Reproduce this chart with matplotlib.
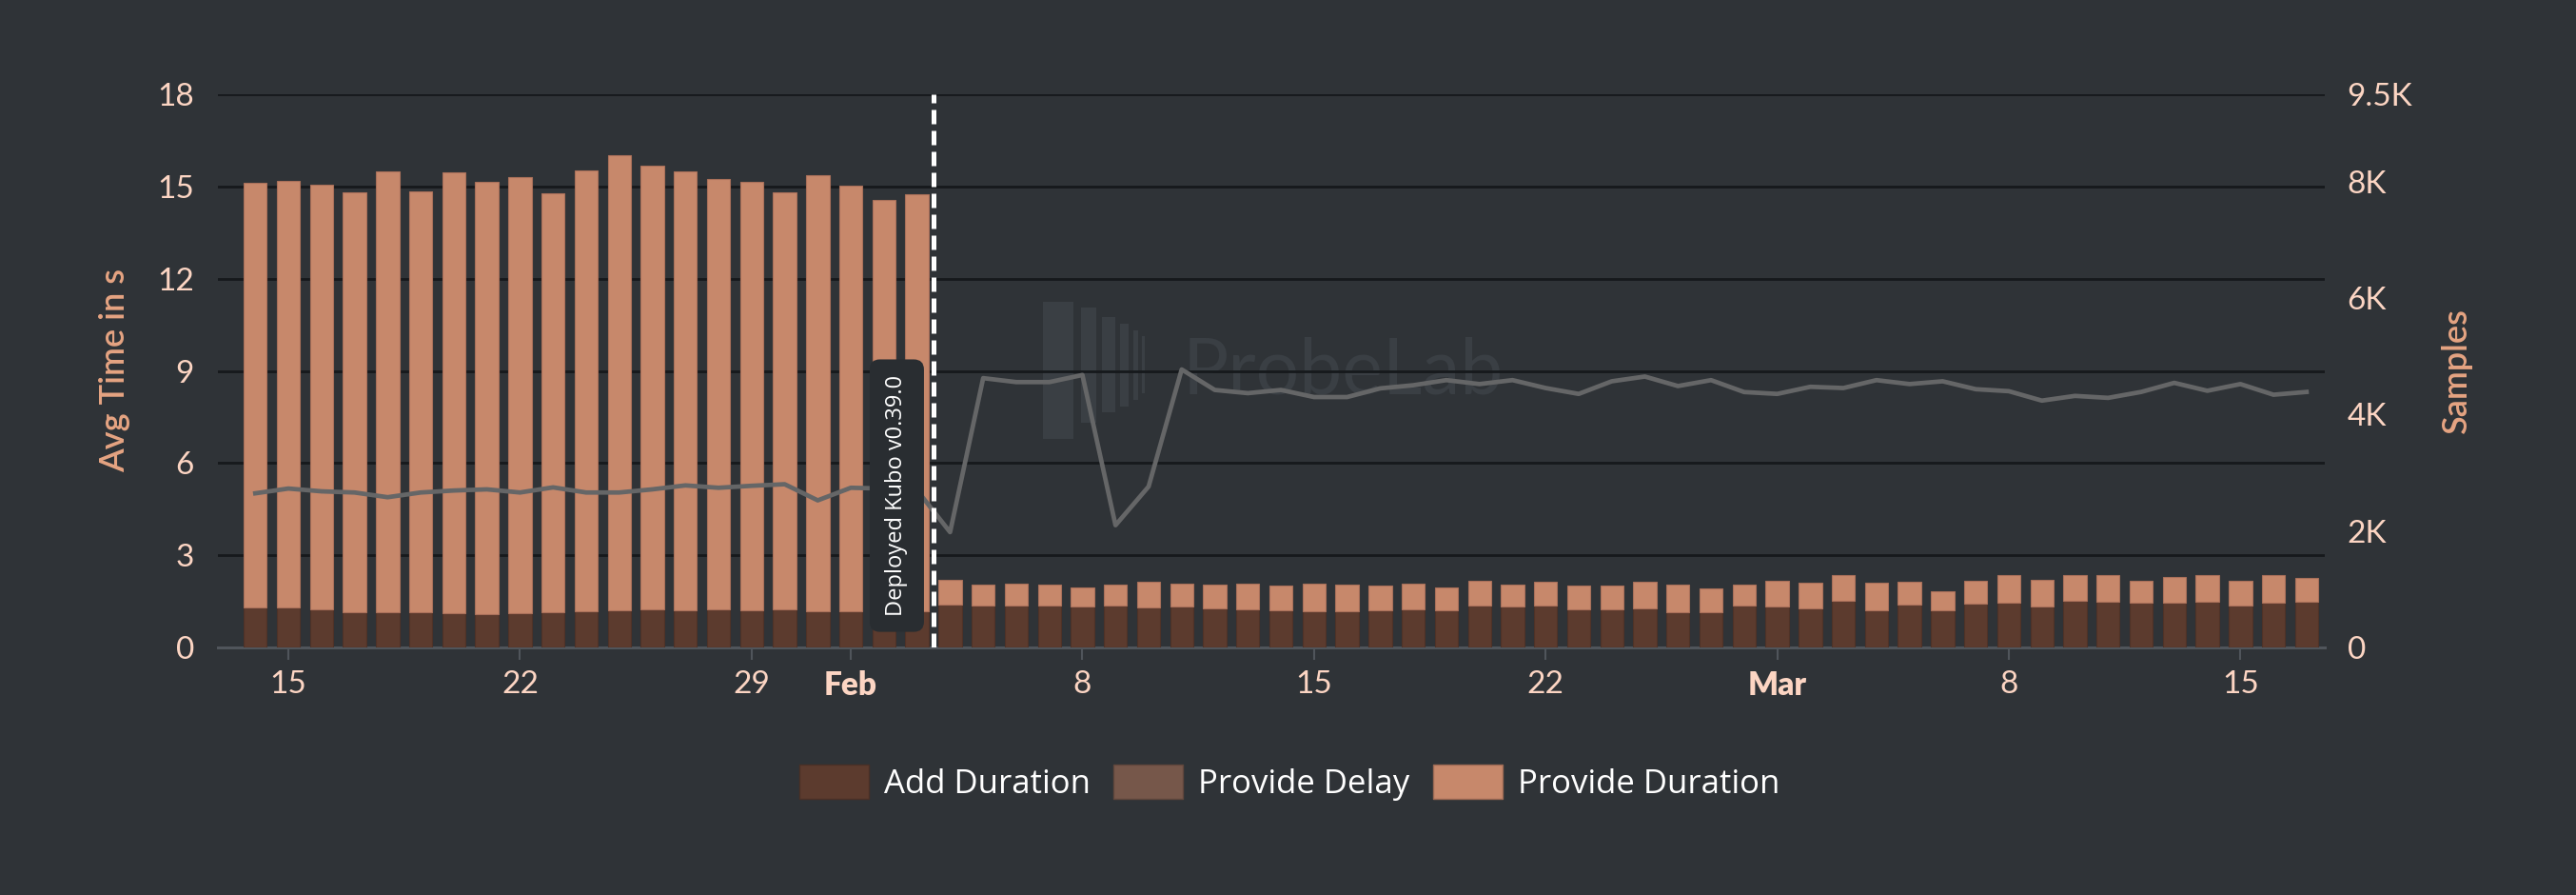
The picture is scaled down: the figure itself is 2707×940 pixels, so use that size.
import numpy as np
import pandas as pd
import matplotlib as mpl
mpl.use("Agg")
import matplotlib.pyplot as plt
import matplotlib.dates as mdates
from matplotlib import patches

plt.rcParams['font.family'] = ['Lato', 'DejaVu Sans']

# ---- data ----
days = pd.date_range('2025-01-14', '2025-03-17', freq='D')

add_duration = [
    1.31, 1.30, 1.24, 1.15, 1.14, 1.15, 1.12, 1.08, 1.12, 1.15, 1.19,
    1.22, 1.23, 1.22, 1.23, 1.22, 1.24, 1.18, 1.18, 1.17, 1.18,
    1.39, 1.35, 1.35, 1.36, 1.33, 1.36, 1.31, 1.33, 1.28, 1.23, 1.21,
    1.18, 1.18, 1.21, 1.24, 1.21, 1.36, 1.32, 1.35, 1.24, 1.24, 1.28,
    1.14, 1.15, 1.35,
    1.32, 1.28, 1.51, 1.22, 1.39, 1.22, 1.44, 1.46, 1.32, 1.51, 1.50,
    1.45, 1.46, 1.48, 1.35, 1.46, 1.48,
]
provide_delay = [
    0.0, 0.0, 0.0, 0.0, 0.0, 0.0, 0.0, 0.0, 0.0, 0.0, 0.0,
    0.0, 0.0, 0.0, 0.0, 0.0, 0.0, 0.0, 0.0, 0.0, 0.0,
    0.0, 0.0, 0.0, 0.0, 0.0, 0.0, 0.0, 0.0, 0.0, 0.0, 0.0,
    0.0, 0.0, 0.0, 0.0, 0.0, 0.0, 0.0, 0.0, 0.0, 0.0, 0.0,
    0.0, 0.0, 0.0,
    0.0, 0.0, 0.0, 0.0, 0.0, 0.0, 0.0, 0.0, 0.0, 0.0, 0.0,
    0.0, 0.0, 0.0, 0.0, 0.0, 0.0,
]
provide_duration = [
    13.80, 13.89, 13.81, 13.66, 14.35, 13.69, 14.33, 14.06, 14.19, 13.64, 14.32,
    14.79, 14.45, 14.27, 14.00, 13.92, 13.57, 14.20, 13.86, 13.39, 13.56,
    0.80, 0.68, 0.73, 0.68, 0.62, 0.68, 0.82, 0.75, 0.76, 0.84, 0.80,
    0.89, 0.85, 0.79, 0.85, 0.73, 0.81, 0.72, 0.78, 0.77, 0.77, 0.85,
    0.90, 0.77, 0.70,
    0.84, 0.84, 0.86, 0.90, 0.74, 0.61, 0.72, 0.88, 0.87, 0.85, 0.85,
    0.73, 0.82, 0.86, 0.82, 0.89, 0.78,
]
samples = [
    2647, 2729, 2681, 2661, 2580, 2661, 2695, 2715, 2661, 2749, 2661,
    2661, 2715, 2783, 2742, 2776, 2803, 2526, 2742, 2729, 2700,
    1980, 4625, 4557, 4557, 4679, 2099, 2763, 4774, 4422, 4367, 4422,
    4300, 4300, 4449, 4503, 4591, 4523, 4591, 4455, 4354, 4571, 4652,
    4489, 4591, 4386,
    4354, 4476, 4455, 4591, 4523, 4571, 4435, 4401, 4239, 4320, 4286,
    4388, 4544, 4408, 4523, 4340, 4388,
]

tick_days = ['2025-01-15', '2025-01-22', '2025-01-29', '2025-02-01', '2025-02-08',
             '2025-02-15', '2025-02-22', '2025-03-01', '2025-03-08', '2025-03-15']
tick_labels = ['15', '22', '29', 'Feb', '8', '15', '22', 'Mar', '8', '15']
left_ticks = [0, 3, 6, 9, 12, 15, 18]
right_ticks = [0, 2000, 4000, 6000, 8000, 9500]
right_labels = ['0', '2K', '4K', '6K', '8K', '9.5K']
deploy_day = '2025-02-03 12:00'
deploy_label = 'Deployed Kubo v0.39.0'

# ---- colours ----
bg = '#2f3337'
c_add = '#5c3b2e'
c_delay = '#76574a'
c_prov = '#c7886b'
c_line = '#656667'
c_tick = '#fcd5c3'
c_label = '#e6a482'
c_grid = '#16191c'
c_base = '#50555b'

W, H = 2707, 940
fig = plt.figure(figsize=(W / 100, H / 100), dpi=100, facecolor=bg)
ax = fig.add_axes([229 / W, 1 - 680 / H, 2214 / W, 581 / H])
ax.set_facecolor('none')
ax2 = ax.twinx()
ax2.set_facecolor('none')

x = mdates.date2num(days)
add = np.array(add_duration)
dly = np.array(provide_delay)
prov = np.array(provide_duration)

ax.bar(x, add, width=0.7, color=c_add, edgecolor='#4e3227', linewidth=0.8, zorder=3)
ax.bar(x, dly, width=0.7, bottom=add, color=c_delay, linewidth=0, zorder=3)
ax.bar(x, prov, width=0.7, bottom=add + dly, color=c_prov, edgecolor='#a9705a',
       linewidth=0.8, zorder=3)

ax.set_xlim(x[0] - 1.13, x[-1] + 0.55)
ax.set_ylim(0, 18)
ax.set_yticks(left_ticks)
ax.yaxis.grid(True, color=c_grid, linewidth=2.0, zorder=0)
ax.set_axisbelow(True)
for s in ax.spines.values():
    s.set_visible(False)
for s in ax2.spines.values():
    s.set_visible(False)
ax.spines['bottom'].set_visible(True)
ax.spines['bottom'].set_color(c_base)
ax.spines['bottom'].set_linewidth(2.2)

ax.tick_params(axis='y', length=0, pad=18, labelsize=24, labelcolor=c_tick)

ax.set_xticks(mdates.date2num(pd.to_datetime(tick_days)))
ax.set_xticklabels(tick_labels)
ax.tick_params(axis='x', length=9.5, width=1.5, color=c_base, pad=8,
               labelsize=24, labelcolor=c_tick)
for lab in ax.get_xticklabels():
    if lab.get_text() in ('Feb', 'Mar'):
        lab.set_fontweight('heavy')

# samples line on right axis
ax2.plot(x, samples, color=c_line, linewidth=3.4, zorder=4)
ax2.set_ylim(0, 9500)
ax2.set_yticks(right_ticks)
ax2.set_yticklabels(right_labels)
ax2.tick_params(axis='y', length=0, pad=17, labelsize=24, labelcolor=c_tick)

# deploy marker
dx = mdates.date2num(pd.Timestamp(deploy_day))
ax2.axvline(dx, color='white', linewidth=3.6, linestyle=(0, (3.0, 1.4)), zorder=6)
ax2.text(dx - 1.11, 4.94, deploy_label, transform=ax.transData, rotation=90,
         ha='center', va='center', fontsize=17, color='white', family='Open Sans',
         zorder=7,
         bbox=dict(boxstyle='round,pad=0.7,rounding_size=0.45', fc='#292d31',
                   ec='none'))

# axis titles
fig.text(121 / W, 1 - 389 / H, 'Avg Time in s', rotation=90, ha='center', va='center',
         fontsize=26, color=c_label, fontweight='semibold')
fig.text(2581 / W, 1 - 389 / H, 'Samples', rotation=90, ha='center', va='center',
         fontsize=26, color=c_label, fontweight='semibold')

# watermark
wm = '#3a3f44'
for x0, y0, x1, y1 in [(1096, 317, 1128, 461), (1136, 323, 1152, 444),
                       (1158, 333, 1172, 433), (1177, 340, 1186, 427),
                       (1191, 347, 1196, 420), (1200, 353, 1203, 413)]:
    fig.patches.append(patches.Rectangle((x0 / W, 1 - y1 / H), (x1 - x0) / W, (y1 - y0) / H,
                                         transform=fig.transFigure, fc=wm, ec='none',
                                         zorder=-1))
fig.text(1243 / W, 1 - 413 / H, 'ProbeLab', fontsize=58, color=wm, ha='left',
         va='baseline', zorder=-1)

# legend
handles = [patches.Patch(fc=c_add, ec='#4a3026'), patches.Patch(fc=c_delay, ec='#5f463c'),
           patches.Patch(fc=c_prov, ec='#9a6853')]
leg = fig.legend(handles, ['Add Duration', 'Provide Delay', 'Provide Duration'],
                 loc='center', bbox_to_anchor=(1355 / W, 1 - 822 / H), ncol=3,
                 frameon=False, handlelength=2.1, handleheight=1.2,
                 handletextpad=0.46, columnspacing=0.7,
                 prop={'family': 'Open Sans', 'size': 25})
for t in leg.get_texts():
    t.set_color('white')

plt.savefig('out.png', dpi=100, facecolor=bg)
